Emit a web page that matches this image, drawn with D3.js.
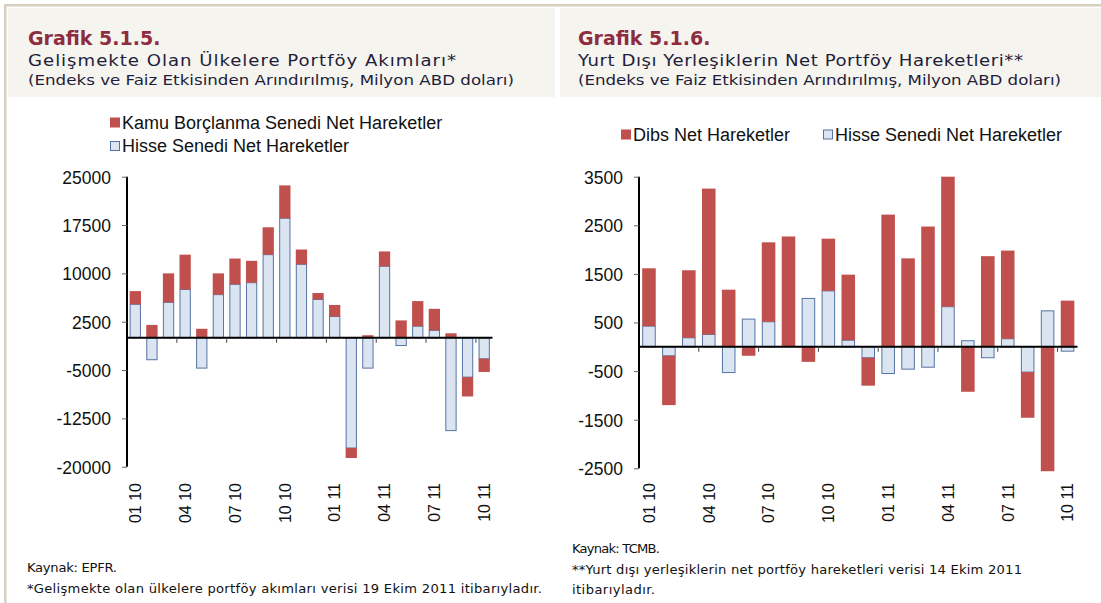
<!DOCTYPE html>
<html>
<head>
<meta charset="utf-8">
<script src="https://cdn.jsdelivr.net/npm/d3@7"></script>
<style>
  html, body { margin: 0; padding: 0; background: #ffffff; }
  svg { display: block; }
</style>
</head>
<body>
<svg id="chart" width="1101" height="603"></svg>
<script>
// ---------- DATA ----------
const months = ["01 10","02 10","03 10","04 10","05 10","06 10","07 10","08 10","09 10","10 10","11 10","12 10",
                "01 11","02 11","03 11","04 11","05 11","06 11","07 11","08 11","09 11","10 11"];
const xTickLabels = ["01 10","04 10","07 10","10 10","01 11","04 11","07 11","10 11"];

// Grafik 5.1.5 (Milyon ABD doları)
const leftKamu  = [2050, 2000, 4500, 5400, 1400, 3300, 4000, 3400, 4250, 5100, 2300, 1000,
                   1800, -1550, 400, 2300, 2700, 3900, 3350, 700, -3000, -2050];
const leftHisse = [5200, -3400, 5500, 7500, -4700, 6700, 8300, 8550, 12900, 18550, 11400, 5950,
                   3300, -17100, -4700, 11100, -1200, 1800, 1150, -14400, -6100, -3250];
const leftTicks = [25000, 17500, 10000, 2500, -5000, -12500, -20000];

// Grafik 5.1.6 (Milyon ABD doları)
const rightDibs  = [1190, -1015, 1390, 3000, 1175, -185, 1635, 2270, -310, 1075, 1350, -575,
                    2720, 1820, 2475, 2675, -925, 1865, 1815, -940, -2560, 950];
const rightHisse = [425, -185, 185, 255, -530, 570, 515, 0, 995, 1150, 135, -225,
                    -550, -460, -420, 825, 125, -225, 165, -520, 740, -90];
const rightTicks = [3500, 2500, 1500, 500, -500, -1500, -2500];

// ---------- STYLE ----------
const RED = "#c0504d", BLUE_FILL = "#dbe5f1", BLUE_STROKE = "#5573a3";
const HEAD_BG = "#f6f4ee", FRAME = "#d8cfc0";
const TITLE_COL = "#8e2c40", SUB_COL = "#1e1e3c";
const HEAD_FONT = "'DejaVu Sans', sans-serif";
const CHART_FONT = "'Liberation Sans', Arial, sans-serif";

const svg = d3.select("#chart");

// frame and header backgrounds
svg.append("rect").attr("x", 4).attr("y", 4).attr("width", 1097).attr("height", 2.5).attr("fill", FRAME);
svg.append("rect").attr("x", 4).attr("y", 4).attr("width", 2.5).attr("height", 599).attr("fill", FRAME);
svg.append("rect").attr("x", 8).attr("y", 8).attr("width", 547).attr("height", 89).attr("fill", HEAD_BG);
svg.append("rect").attr("x", 560).attr("y", 8).attr("width", 541).attr("height", 89).attr("fill", HEAD_BG);

// wide geometric face imitation: horizontally stretched text fitted to a width
function wideText(parent, x, y, size, stretch, width, txt, fill) {
  return parent.append("text")
    .attr("transform", `translate(${x},${y}) scale(${stretch},1)`)
    .attr("font-size", size).attr("fill", fill)
    .attr("textLength", width / stretch).attr("lengthAdjust", "spacing")
    .text(txt);
}

function header(x, title, sub1, w1, sub2, w2) {
  const g = svg.append("g").attr("font-family", HEAD_FONT);
  g.append("text").attr("x", x).attr("y", 45).attr("fill", TITLE_COL)
    .attr("font-size", 19).attr("font-weight", "bold").text(title);
  wideText(g, x, 66, 15.5, 1.17, w1, sub1, SUB_COL);
  wideText(g, x, 84.5, 14.5, 1.15, w2, sub2, SUB_COL);
}
header(28, "Grafik 5.1.5.", "Gelişmekte Olan Ülkelere Portföy Akımları*", 428,
       "(Endeks ve Faiz Etkisinden Arındırılmış, Milyon ABD doları)", 486);
header(578, "Grafik 5.1.6.", "Yurt Dışı Yerleşiklerin Net Portföy Hareketleri**", 445,
       "(Endeks ve Faiz Etkisinden Arındırılmış, Milyon ABD doları)", 483);

function footer(x, lines, y0) {
  const g = svg.append("g").attr("font-family", HEAD_FONT);
  lines.forEach((l, i) => wideText(g, x, y0 + i * 20.5, 12.5, 1.05, l.w, l.t, "#111"));
}
footer(27, [{ t: "Kaynak: EPFR.", w: 90 },
            { t: "*Gelişmekte olan ülkelere portföy akımları verisi 19 Ekim 2011 itibarıyladır.", w: 515 }], 572);
footer(572, [{ t: "Kaynak: TCMB.", w: 88 },
             { t: "**Yurt dışı yerleşiklerin net portföy hareketleri verisi 14 Ekim 2011", w: 450 },
             { t: "itibarıyladır.", w: 83 }], 553);

// ---------- CHART BUILDER ----------
const fmt = d => String(d);   // plain hyphen minus as in the original

function drawChart(opt) {
  const rows = months.map((m, i) => ({ m, hisse: opt.hisse[i], other: opt.other[i] }));
  const x = d3.scaleBand().domain(months).range(opt.xRange).paddingInner(0.32).paddingOuter(0.16);
  const y = d3.scaleLinear().domain(opt.yDomain).range(opt.yRange);
  const stack = d3.stack().keys(["hisse", "other"]).offset(d3.stackOffsetDiverging);
  const series = stack(rows);
  const g = svg.append("g");

  // bars
  const colors = { hisse: { fill: BLUE_FILL, stroke: BLUE_STROKE }, other: { fill: RED, stroke: "none" } };
  series.forEach(s => {
    g.append("g").selectAll("rect").data(s).join("rect")
      .attr("x", d => x(d.data.m) + (s.key === "hisse" ? 0.5 : 0))
      .attr("width", x.bandwidth() - (s.key === "hisse" ? 1 : 0))
      .attr("y", d => y(Math.max(d[0], d[1])))
      .attr("height", d => Math.abs(y(d[0]) - y(d[1])))
      .attr("fill", colors[s.key].fill)
      .attr("stroke", colors[s.key].stroke)
      .attr("stroke-width", 1);
  });

  // y axis
  const yAxis = d3.axisLeft(y).tickValues(opt.ticks).tickSize(5).tickPadding(11).tickFormat(fmt);
  const ya = g.append("g").attr("transform", `translate(${opt.xRange[0]},0)`).call(yAxis);
  ya.select(".domain").attr("stroke", "#000").attr("stroke-width", 2)
    .attr("d", `M0,${opt.yRange[1]}V${opt.yRange[0]}`);
  ya.selectAll(".tick line").attr("stroke", "#666");
  ya.selectAll(".tick text").attr("font-family", CHART_FONT).attr("font-size", 17.5)
    .attr("fill", "#111").attr("dy", "0.36em");

  // zero line with tick marks at category boundaries every 3 months
  const y0 = y(0);
  g.append("line").attr("x1", opt.xRange[0]).attr("x2", opt.xRange[1])
    .attr("y1", y0).attr("y2", y0).attr("stroke", "#000").attr("stroke-width", 2);
  const gap = x.step() - x.bandwidth();
  const bounds = months.filter((m, i) => i > 0 && i % 3 === 0);
  g.append("g").selectAll("line").data(bounds).join("line")
    .attr("x1", d => x(d) - gap / 2).attr("x2", d => x(d) - gap / 2)
    .attr("y1", y0).attr("y2", y0 + 5).attr("stroke", "#444").attr("stroke-width", 1);

  // rotated category labels
  const xAxis = d3.axisBottom(x).tickValues(xTickLabels).tickSize(0);
  const xa = g.append("g").attr("transform", `translate(0,${opt.labelY})`).call(xAxis);
  xa.select(".domain").remove();
  xa.selectAll(".tick text").attr("font-family", CHART_FONT).attr("font-size", 16).attr("fill", "#111")
    .attr("transform", "rotate(-90)").attr("x", -3).attr("y", 0).attr("dy", "0.36em")
    .style("text-anchor", "end");

  // legend
  const lg = svg.append("g").attr("font-family", CHART_FONT).attr("font-size", 18).attr("fill", "#111");
  opt.legend.forEach(l => {
    lg.append("rect").attr("x", l.x + 0.5).attr("y", l.y - 10.5).attr("width", 9).attr("height", 9)
      .attr("fill", l.key === "hisse" ? BLUE_FILL : RED)
      .attr("stroke", l.key === "hisse" ? BLUE_STROKE : RED).attr("stroke-width", 1);
    lg.append("text").attr("x", l.x + 12).attr("y", l.y).text(l.label);
  });
}

drawChart({
  hisse: leftHisse, other: leftKamu, ticks: leftTicks,
  xRange: [127, 492.5], yDomain: [-20000, 25000], yRange: [466.7, 176.7], labelY: 480,
  legend: [
    { key: "other", x: 110, y: 128.5, label: "Kamu Borçlanma Senedi Net Hareketler" },
    { key: "hisse", x: 110, y: 152, label: "Hisse Senedi Net Hareketler" }
  ]
});

drawChart({
  hisse: rightHisse, other: rightDibs, ticks: rightTicks,
  xRange: [639, 1077.5], yDomain: [-2500, 3500], yRange: [468.3, 176.7], labelY: 480,
  legend: [
    { key: "other", x: 621, y: 140.5, label: "Dibs Net Hareketler" },
    { key: "hisse", x: 823, y: 140.5, label: "Hisse Senedi Net Hareketler" }
  ]
});
</script>
</body>
</html>
